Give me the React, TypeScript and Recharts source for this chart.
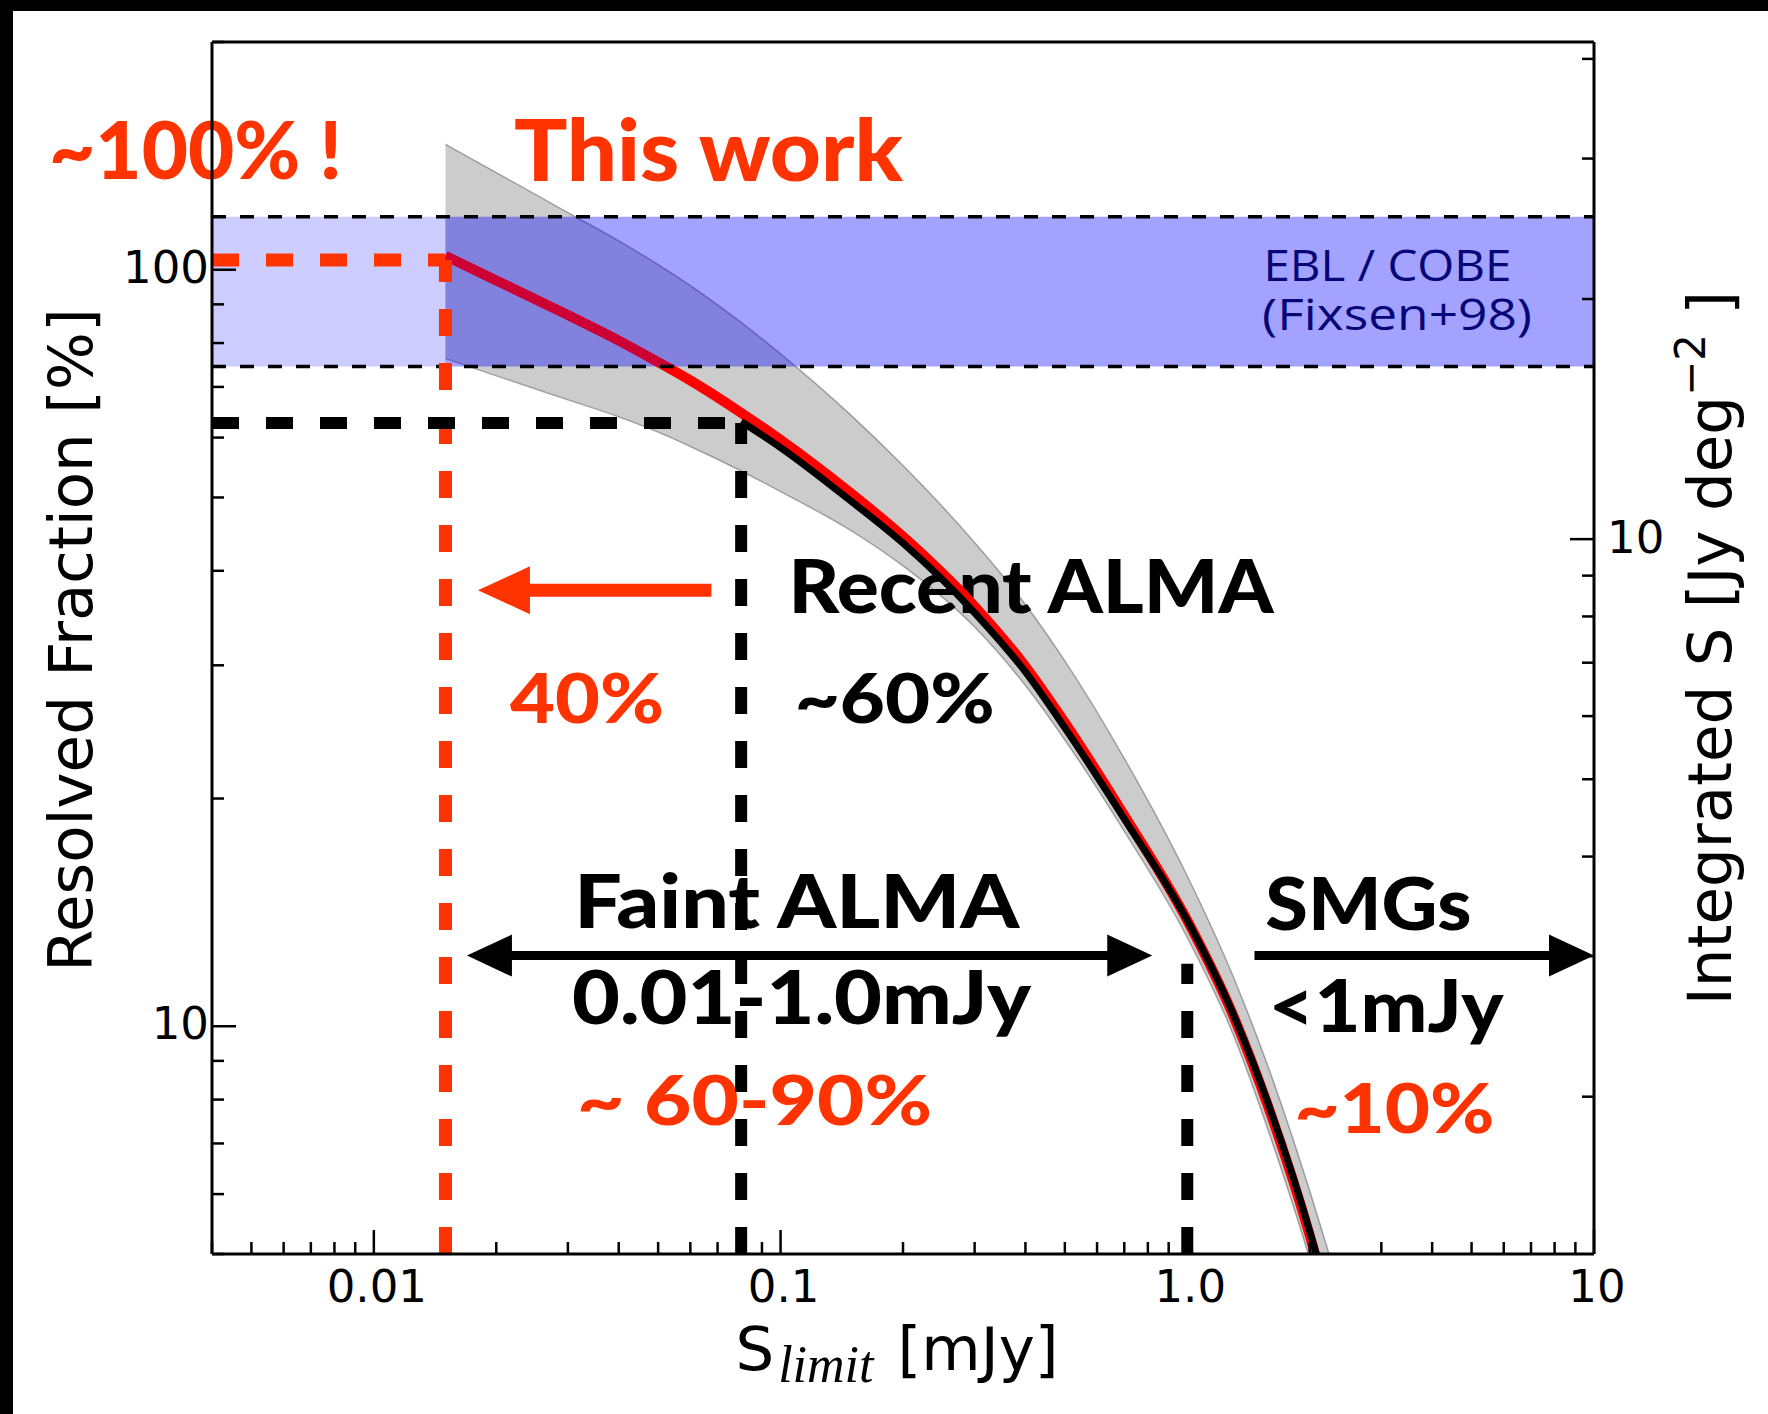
import React from 'react';
import {
  ComposedChart,
  Area,
  Line,
  XAxis,
  YAxis,
  ReferenceArea,
  ReferenceLine,
  ReferenceDot,
} from 'recharts';

// S_limit grid [mJy]
const sLimit = [0.015, 0.02, 0.03, 0.04, 0.05, 0.06, 0.08, 0.1, 0.15, 0.2, 0.3, 0.4, 0.5, 0.7, 1.0, 1.3, 1.6, 2.0, 2.2, 2.4];
// resolved fraction [%] – this work (red) and recent ALMA (black)
const thisWork = [104.3, 96.8, 87.1, 80.6, 75.5, 71.4, 64.7, 59.6, 50.5, 44.4, 35.9, 29.9, 25.2, 19.0, 13.8, 10.3, 7.69, 5.29, 4.39, 3.66];
const recentAlma = [null, null, null, null, null, null, 63.0, 58.2, 49.3, 43.5, 35.2, 29.4, 24.8, 18.8, 13.8, 10.35, 7.76, 5.36, 4.46, 3.72];
// 1-sigma envelope of this work
const bandHigh = [146.5, 134.4, 119.0, 109.2, 101.6, 95.3, 85.2, 77.4, 64.0, 55.1, 43.6, 36.1, 30.4, 22.6, 15.8, 11.6, 8.68, 6.06, 5.13, 4.37];
const bandLow = [76.3, 72.4, 67.3, 63.9, 61.0, 58.4, 54.2, 50.9, 45.1, 40.6, 33.7, 28.2, 23.9, 18.1, 13.1, 9.72, 7.15, 4.93, 4.15, 3.52];

// EBL from COBE (Fixsen+98), in % of the total
const eblRange = [74.5, 117.5];
// flux limits [mJy] and the fractions they mark [%]
const thisWorkLimit = 0.015;
const thisWorkFrac = 103;
const recentLimit = 0.08;
const recentFrac = 62.7;
const smgLimit = 1.0;
const arrowLevel = 12.4;
const redArrowLevel = 37.7;

// axis ticks
const xTicks = [0.004, 0.005, 0.006, 0.007, 0.008, 0.009, 0.01, 0.02, 0.03, 0.04, 0.05, 0.06, 0.07, 0.08, 0.09,
  0.1, 0.2, 0.3, 0.4, 0.5, 0.6, 0.7, 0.8, 0.9, 1, 2, 3, 4, 5, 6, 7, 8, 9, 10];
const xMajor = [0.01, 0.1, 1, 10];
const xMajorText = ['0.01', '0.1', '1.0', '10'];
const topTicks = [0.2, 0.3, 0.4, 0.5, 0.6, 0.7, 0.8, 0.9, 1, 2, 3, 4, 5, 6, 7, 8, 9, 10,
  20, 30, 40, 50, 60, 70, 80, 90, 100, 200, 300, 400];
const topMajor = [1, 10, 100];
const leftTicks = [5, 6, 7, 8, 9, 10, 20, 30, 40, 50, 60, 70, 80, 90, 100, 200];
const leftMajor = [10, 100];
const leftMajorText = ['10', '100'];
const rightTicks = [2, 3, 4, 5, 6, 7, 8, 9, 10, 20, 30, 40];
const rightMajor = [10];
const rightMajorText = ['10'];

const rows = sLimit.map((s, i) => ({
  s,
  thisWork: thisWork[i],
  recent: recentAlma[i],
  band: [bandLow[i], bandHigh[i]],
}));

const RED = '#ff3300';
const NAVY = '#0a0a2c';
const TICK_FONT = "'DejaVu Sans', sans-serif";
const NOTE_FONT = "Lato, 'Open Sans', sans-serif";

type Side = 'bottom' | 'top' | 'left' | 'right';

const makeTick = (side: Side, majors: number[], labels: string[]) => (props: any) => {
  const { x, y, payload } = props;
  const v = Number(payload.value);
  const k = majors.findIndex((m) => Math.abs(m - v) <= m * 1e-6);
  const len = k >= 0 ? 24 : 12;
  const label = k >= 0 ? labels[k] : '';
  const ln = { stroke: '#000', strokeWidth: 2.5 };
  const txt = { fontSize: 45, fontFamily: TICK_FONT, fill: '#000' };
  if (side === 'bottom') {
    return (
      <g>
        <line x1={x} x2={x} y1={y} y2={y - len} {...ln} />
        {label && <text x={x + 3} y={y + 48} textAnchor="middle" {...txt}>{label}</text>}
      </g>
    );
  }
  if (side === 'top') {
    return <line x1={x} x2={x} y1={y} y2={y + len} {...ln} />;
  }
  if (side === 'left') {
    return (
      <g>
        <line x1={x} x2={x + len} y1={y} y2={y} {...ln} />
        {label && <text x={x - 3} y={y + 13} textAnchor="end" {...txt}>{label}</text>}
      </g>
    );
  }
  return (
    <g>
      <line x1={x} x2={x - len} y1={y} y2={y} {...ln} />
      {label && <text x={x + 13} y={y + 14} textAnchor="start" {...txt}>{label}</text>}
    </g>
  );
};

// straight arrow drawn between the two ends of a reference segment
const arrowShape = (head: number, half: number, both = false) => (p: any) => {
  const { x1, y1, x2, y2, stroke, strokeWidth } = p;
  const dx = x2 - x1;
  const dy = y2 - y1;
  const L = Math.hypot(dx, dy) || 1;
  const ux = dx / L;
  const uy = dy / L;
  const nx = -uy;
  const ny = ux;
  const tri = (tx: number, ty: number, dir: number) => {
    const bx = tx - dir * ux * head;
    const by = ty - dir * uy * head;
    return `M${tx},${ty}L${bx + nx * half},${by + ny * half}L${bx - nx * half},${by - ny * half}Z`;
  };
  const sx = both ? x1 + ux * head * 0.8 : x1;
  const sy = both ? y1 + uy * head * 0.8 : y1;
  return (
    <g>
      <line x1={sx} y1={sy} x2={x2 - ux * head * 0.8} y2={y2 - uy * head * 0.8} stroke={stroke} strokeWidth={strokeWidth} />
      <path d={tri(x2, y2, 1)} fill={stroke} />
      {both && <path d={tri(x1, y1, -1)} fill={stroke} />}
    </g>
  );
};

// annotation text; `span` fixes the drawn width of the string
const note = (text: string, color: string, size: number, span: number, family = NOTE_FONT, weight = 900) => (p: any) => (
  <text
    x={p.cx}
    y={p.cy}
    fill={color}
    fontSize={size}
    fontFamily={family}
    fontWeight={weight}
    textLength={span}
    lengthAdjust="spacingAndGlyphs"
  >
    {text}
  </text>
);

const LeftTitle = (props: any) => {
  const vb = props.viewBox || { x: 112, y: 42, width: 100, height: 1212 };
  const cx = vb.x - 20;
  const cy = vb.y + vb.height / 2 - 8;
  return (
    <text transform={`translate(${cx},${cy}) rotate(-90)`} textAnchor="middle" fontSize={61} fontFamily={TICK_FONT} fill="#000">
      Resolved Fraction [%]
    </text>
  );
};

const RightTitle = (props: any) => {
  const vb = props.viewBox || { x: 1594, y: 42, width: 100, height: 1212 };
  const cx = vb.x + 137;
  const cy = vb.y + vb.height / 2;
  return (
    <text transform={`translate(${cx},${cy}) rotate(-90)`} textAnchor="middle" fontSize={61} fontFamily={TICK_FONT} fill="#000">
      Integrated S [Jy deg
      <tspan dy={-26} fontSize={42}>−2</tspan>
      <tspan dy={26}> ]</tspan>
    </text>
  );
};

const BottomTitle = (props: any) => {
  const vb = props.viewBox || { x: 212, y: 1254, width: 1382, height: 100 };
  const cx = vb.x + vb.width / 2 - 6;
  const cy = vb.y + 116;
  return (
    <text x={cx} y={cy} textAnchor="middle" fontSize={61} fontFamily={TICK_FONT} fill="#000">
      S
      <tspan dx={4} dy={12} fontSize={52} fontStyle="italic" fontFamily="'Liberation Serif', serif">limit</tspan>
      <tspan dx={24} dy={-12}>[mJy]</tspan>
    </text>
  );
};

export default function App() {
  return (
    <div style={{ position: 'absolute', left: 0, top: 0, width: 1768, height: 1414, background: '#fff', overflow: 'hidden' }}>
      <ComposedChart width={1768} height={1414} data={rows} margin={{ top: 32, right: 74, bottom: 60, left: 112 }}>
        {/* annotations sit under the curves */}
        <ReferenceDot xAxisId="b" yAxisId="l" x={0.00159} y={131.9} r={0} ifOverflow="visible" zIndex={50} shape={note('~100% !', RED, 80, 293)} />
        <ReferenceDot xAxisId="b" yAxisId="l" x={0.0221} y={131.1} r={0} ifOverflow="visible" zIndex={50} shape={note('This work', RED, 86, 389)} />
        <ReferenceDot xAxisId="b" yAxisId="l" x={1.539} y={96.7} r={0} ifOverflow="visible" zIndex={50} shape={note('EBL / COBE', NAVY, 43, 248, "'Open Sans', sans-serif", 500)} />
        <ReferenceDot xAxisId="b" yAxisId="l" x={1.527} y={83.3} r={0} ifOverflow="visible" zIndex={50} shape={note('(Fixsen+98)', NAVY, 43, 270, "'Open Sans', sans-serif", 500)} />
        <ReferenceDot xAxisId="b" yAxisId="l" x={0.1046} y={35.2} r={0} ifOverflow="visible" zIndex={50} shape={note('Recent ALMA', '#000', 74, 485)} />
        <ReferenceDot xAxisId="b" yAxisId="l" x={0.1083} y={25.2} r={0} ifOverflow="visible" zIndex={50} shape={note('~60%', '#000', 68, 200)} />
        <ReferenceDot xAxisId="b" yAxisId="l" x={0.02163} y={25.2} r={0} ifOverflow="visible" zIndex={50} shape={note('40%', RED, 68, 154)} />
        <ReferenceDot xAxisId="b" yAxisId="l" x={0.0311} y={13.48} r={0} ifOverflow="visible" zIndex={50} shape={note('Faint ALMA', '#000', 74, 445)} />
        <ReferenceDot xAxisId="b" yAxisId="l" x={0.0307} y={10.06} r={0} ifOverflow="visible" zIndex={50} shape={note('0.01-1.0mJy', '#000', 74, 459)} />
        <ReferenceDot xAxisId="b" yAxisId="l" x={0.0316} y={7.4} r={0} ifOverflow="visible" zIndex={50} shape={note('~ 60-90%', RED, 68, 355)} />
        <ReferenceDot xAxisId="b" yAxisId="l" x={1.556} y={13.39} r={0} ifOverflow="visible" zIndex={50} shape={note('SMGs', '#000', 72, 206)} />
        <ReferenceDot xAxisId="b" yAxisId="l" x={1.584} y={9.82} r={0} ifOverflow="visible" zIndex={50} shape={note('<1mJy', '#000', 72, 235)} />
        <ReferenceDot xAxisId="b" yAxisId="l" x={1.834} y={7.22} r={0} ifOverflow="visible" zIndex={50} shape={note('~10%', RED, 68, 200)} />

        <Area
          xAxisId="b"
          yAxisId="l"
          dataKey="band"
          type="monotone"
          fill="#000"
          fillOpacity={0.2}
          stroke="#000"
          strokeOpacity={0.3}
          strokeWidth={1.5}
          isAnimationActive={false}
          dot={false}
          activeDot={false}
          zIndex={100}
        />
        <ReferenceArea xAxisId="b" yAxisId="l" x1={0.004} x2={10} y1={eblRange[0]} y2={eblRange[1]} fill="#0000ff" fillOpacity={0.2} stroke="none" ifOverflow="visible" zIndex={150} />
        <Line
          xAxisId="b"
          yAxisId="l"
          dataKey="thisWork"
          type="monotone"
          stroke="#ff0000"
          strokeWidth={10}
          dot={false}
          activeDot={false}
          isAnimationActive={false}
          zIndex={200}
        />
        <ReferenceArea xAxisId="b" yAxisId="l" x1={thisWorkLimit} x2={10} y1={eblRange[0]} y2={eblRange[1]} fill="#0000ff" fillOpacity={0.2} stroke="none" ifOverflow="visible" zIndex={250} />
        <Line
          xAxisId="b"
          yAxisId="l"
          dataKey="recent"
          type="monotone"
          stroke="#000"
          strokeWidth={7}
          dot={false}
          activeDot={false}
          isAnimationActive={false}
          zIndex={300}
        />

        {/* EBL band borders */}
        <ReferenceLine xAxisId="b" yAxisId="l" y={eblRange[1]} stroke="#000" strokeWidth={3.5} strokeDasharray="14 14" ifOverflow="visible" zIndex={460} />
        <ReferenceLine xAxisId="b" yAxisId="l" y={eblRange[0]} stroke="#000" strokeWidth={3.5} strokeDasharray="14 14" ifOverflow="visible" zIndex={460} />

        {/* flux-limit guides */}
        <ReferenceLine xAxisId="b" yAxisId="l" segment={[{ x: 0.004, y: thisWorkFrac }, { x: thisWorkLimit, y: thisWorkFrac }]} stroke={RED} strokeWidth={13} strokeDasharray="27 27" ifOverflow="visible" zIndex={460} />
        <ReferenceLine xAxisId="b" yAxisId="l" segment={[{ x: thisWorkLimit, y: 5 }, { x: thisWorkLimit, y: thisWorkFrac }]} stroke={RED} strokeWidth={13} strokeDasharray="27 27" ifOverflow="visible" zIndex={460} />
        <ReferenceLine xAxisId="b" yAxisId="l" segment={[{ x: 0.004, y: recentFrac }, { x: recentLimit, y: recentFrac }]} stroke="#000" strokeWidth={12} strokeDasharray="27 27" ifOverflow="visible" zIndex={460} />
        <ReferenceLine xAxisId="b" yAxisId="l" segment={[{ x: recentLimit, y: 5 }, { x: recentLimit, y: recentFrac }]} stroke="#000" strokeWidth={12} strokeDasharray="27 27" ifOverflow="visible" zIndex={460} />
        <ReferenceLine xAxisId="b" yAxisId="l" segment={[{ x: smgLimit, y: 5 }, { x: smgLimit, y: 12.1 }]} stroke="#000" strokeWidth={12} strokeDasharray="27 27" ifOverflow="visible" zIndex={460} />

        {/* range arrows */}
        <ReferenceLine xAxisId="b" yAxisId="l" segment={[{ x: 0.0676, y: redArrowLevel }, { x: 0.01803, y: redArrowLevel }]} stroke={RED} strokeWidth={13} ifOverflow="visible" zIndex={470} shape={arrowShape(52, 24)} />
        <ReferenceLine xAxisId="b" yAxisId="l" segment={[{ x: 0.01694, y: arrowLevel }, { x: 0.82, y: arrowLevel }]} stroke="#000" strokeWidth={9} ifOverflow="visible" zIndex={470} shape={arrowShape(45, 21, true)} />
        <ReferenceLine xAxisId="b" yAxisId="l" segment={[{ x: 1.463, y: arrowLevel }, { x: 10, y: arrowLevel }]} stroke="#000" strokeWidth={9} ifOverflow="visible" zIndex={470} shape={arrowShape(45, 21)} />

        <XAxis
          xAxisId="b"
          dataKey="s"
          type="number"
          scale="log"
          domain={[0.004, 10]}
          allowDataOverflow
          ticks={xTicks}
          interval={0}
          tickSize={0}
          tickMargin={0}
          tickLine={false}
          axisLine={{ stroke: '#000', strokeWidth: 3 }}
          tick={makeTick('bottom', xMajor, xMajorText)}
          height={100}
          label={<BottomTitle />}
        />
        <XAxis
          xAxisId="t"
          orientation="top"
          type="number"
          scale="log"
          domain={[0.1208, 405]}
          allowDataOverflow
          ticks={topTicks}
          interval={0}
          tickSize={0}
          tickMargin={0}
          tickLine={false}
          axisLine={{ stroke: '#000', strokeWidth: 3 }}
          tick={makeTick('top', topMajor, ['', '', ''])}
          height={10}
        />
        <YAxis
          yAxisId="l"
          type="number"
          scale="log"
          domain={[5, 200]}
          allowDataOverflow
          ticks={leftTicks}
          interval={0}
          tickSize={0}
          tickMargin={0}
          tickLine={false}
          axisLine={{ stroke: '#000', strokeWidth: 3 }}
          tick={makeTick('left', leftMajor, leftMajorText)}
          width={100}
          label={<LeftTitle />}
        />
        <YAxis
          yAxisId="r"
          orientation="right"
          type="number"
          scale="log"
          domain={[1.27, 42]}
          allowDataOverflow
          ticks={rightTicks}
          interval={0}
          tickSize={0}
          tickMargin={0}
          tickLine={false}
          axisLine={{ stroke: '#000', strokeWidth: 3 }}
          tick={makeTick('right', rightMajor, rightMajorText)}
          width={100}
          label={<RightTitle />}
        />
      </ComposedChart>
      {/* dark frame along the top and left edges */}
      <div style={{ position: 'absolute', left: 0, top: 0, width: 1768, height: 11, background: '#000' }} />
      <div style={{ position: 'absolute', left: 0, top: 0, width: 13, height: 1414, background: '#000' }} />
    </div>
  );
}
